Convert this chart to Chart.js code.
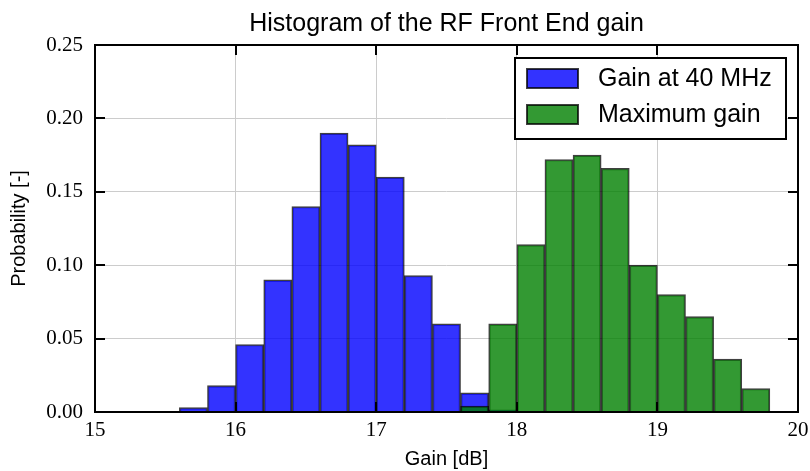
<!DOCTYPE html>
<html>
<head>
<meta charset="utf-8">
<script src="https://cdn.jsdelivr.net/npm/chart.js@4/dist/chart.umd.min.js"></script>
<style>
  html, body { margin: 0; padding: 0; background: #fff; }
  #wrap { width: 810px; height: 471px; }
</style>
</head>
<body>
<div id="wrap"><canvas id="histChart"></canvas></div>
<script>
// bin centres (0.2 dB wide bins)
const binCenters = [15.7, 15.9, 16.1, 16.3, 16.5, 16.7, 16.9, 17.1, 17.3, 17.5, 17.7,
  17.9, 18.1, 18.3, 18.5, 18.7, 18.9, 19.1, 19.3, 19.5, 19.7];

// probabilities
const gain40Values = [0.003, 0.018, 0.046, 0.090, 0.140, 0.190, 0.182, 0.160, 0.093, 0.060, 0.013,
  0.0015, 0.0007, null, null, null, null, null, null, null, null];
const maxGainValues = [null, null, null, null, null, null, null, null, null, null, 0.004,
  0.060, 0.114, 0.172, 0.175, 0.166, 0.100, 0.080, 0.065, 0.036, 0.016];

const xTicks = [15, 16, 17, 18, 19, 20];
const yTicks = [0, 0.05, 0.10, 0.15, 0.20, 0.25];

const seriesLabels = ["Gain at 40 MHz", "Maximum gain"];

function toPoints(values) {
  return binCenters.map((x, i) => ({ x: x, y: values[i] })).filter((p) => p.y !== null);
}

// cadre noir + petites graduations vers l'intérieur
const framePlugin = {
  id: "frame",
  afterDatasetsDraw(chart) {
    const { ctx, chartArea: a, scales } = chart;
    ctx.save();
    ctx.strokeStyle = "#000";
    ctx.lineWidth = 2;
    ctx.beginPath();
    yTicks.forEach((v) => {
      const y = Math.round(scales.y.getPixelForValue(v));
      ctx.moveTo(a.left, y); ctx.lineTo(a.left + 10, y);
      ctx.moveTo(a.right, y); ctx.lineTo(a.right - 10, y);
    });
    xTicks.forEach((v) => {
      const x = Math.round(scales.x.getPixelForValue(v));
      ctx.moveTo(x, a.top); ctx.lineTo(x, a.top + 10);
      ctx.moveTo(x, a.bottom); ctx.lineTo(x, a.bottom - 10);
    });
    ctx.stroke();
    ctx.strokeRect(a.left, a.top, a.right - a.left, a.bottom - a.top);
    ctx.restore();
  },
};

// légende encadrée, en haut à droite
const legendBoxPlugin = {
  id: "legendBox",
  afterDraw(chart) {
    const { ctx } = chart;
    const bx = 515, by = 58, bw = 271, bh = 81;
    ctx.save();
    ctx.fillStyle = "#fff";
    ctx.fillRect(bx, by, bw, bh);
    ctx.strokeStyle = "#000";
    ctx.lineWidth = 2;
    ctx.strokeRect(bx, by, bw, bh);
    chart.data.datasets.forEach((ds, i) => {
      const cy = 78 + i * 36;
      ctx.fillStyle = ds.backgroundColor;
      ctx.fillRect(527, cy - 9, 51, 19);
      ctx.strokeStyle = ds.borderColor;
      ctx.lineWidth = 2;
      ctx.strokeRect(527, cy - 9, 51, 19);
      ctx.fillStyle = "#000";
      ctx.font = "25px 'Liberation Sans', Arial, sans-serif";
      ctx.textBaseline = "middle";
      ctx.textAlign = "left";
      ctx.fillText(ds.label, 598, cy + 1);
    });
    ctx.restore();
  },
};

new Chart(document.getElementById("histChart"), {
  type: "bar",
  data: {
    datasets: [
      {
        label: seriesLabels[0],
        data: toPoints(gain40Values),
        backgroundColor: "rgba(0, 0, 255, 0.8)",
        borderColor: "rgba(0, 0, 0, 0.75)",
        borderWidth: 1.5,
        grouped: false,
        order: 1,
      },
      {
        label: seriesLabels[1],
        data: toPoints(maxGainValues),
        backgroundColor: "rgba(0, 128, 0, 0.8)",
        borderColor: "rgba(0, 0, 0, 0.75)",
        borderWidth: 1.5,
        grouped: false,
        order: 0,
      },
    ],
  },
  options: {
    responsive: true,
    maintainAspectRatio: false,
    animation: false,
    barPercentage: 1,
    categoryPercentage: 1,
    layout: { padding: 0 },
    plugins: {
      legend: { display: false },
      tooltip: { enabled: false },
      title: {
        display: true,
        fullSize: false,
        text: "Histogram of the RF Front End gain",
        color: "#000",
        font: { family: "'Liberation Sans', Arial, sans-serif", size: 25, weight: "normal" },
        padding: { top: 9, bottom: 6 },
      },
    },
    scales: {
      x: {
        type: "linear",
        min: 15,
        max: 20,
        offset: false,
        afterBuildTicks: (scale) => { scale.ticks = xTicks.map((v) => ({ value: v })); },
        afterFit: (scale) => { scale.height = 59; scale.paddingLeft = 0; scale.paddingRight = 12; },
        ticks: {
          color: "#000",
          padding: 6,
          font: { family: "'Liberation Serif', 'Times New Roman', serif", size: 21 },
          callback: (v) => String(v),
        },
        grid: { color: "#cccccc", lineWidth: 1, drawTicks: false, offset: false },
        border: { display: false },
        title: {
          display: true,
          text: "Gain [dB]",
          color: "#000",
          font: { family: "'Liberation Sans', Arial, sans-serif", size: 20 },
          padding: { top: 0, bottom: 0 },
        },
      },
      y: {
        min: 0,
        max: 0.25,
        afterBuildTicks: (scale) => { scale.ticks = yTicks.map((v) => ({ value: v })); },
        afterFit: (scale) => { scale.width = 95; },
        ticks: {
          color: "#000",
          padding: 12,
          font: { family: "'Liberation Serif', 'Times New Roman', serif", size: 21 },
          callback: (v) => v.toFixed(2),
        },
        grid: { color: "#cccccc", lineWidth: 1, drawTicks: false },
        border: { display: false },
        title: {
          display: true,
          text: "Probability [-]",
          color: "#000",
          font: { family: "'Liberation Sans', Arial, sans-serif", size: 20 },
          padding: { top: 7, bottom: 0 },
        },
      },
    },
  },
  plugins: [framePlugin, legendBoxPlugin],
});
</script>
</body>
</html>
